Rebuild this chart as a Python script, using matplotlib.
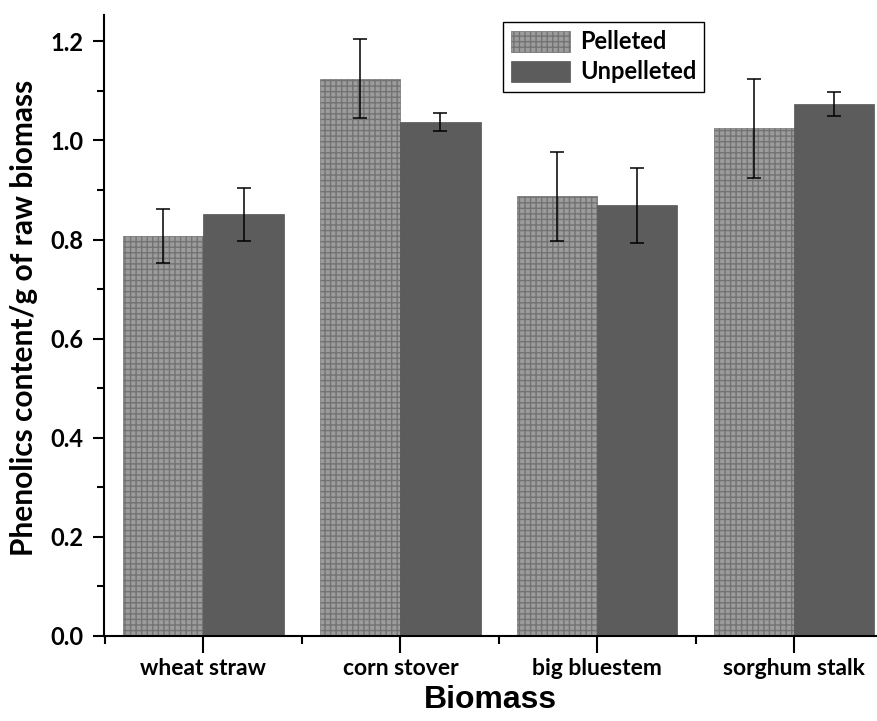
import numpy as np
import matplotlib
matplotlib.use("Agg")
import matplotlib.pyplot as plt
from matplotlib.ticker import MultipleLocator, FixedLocator

# Datos
categorias = ["wheat straw", "corn stover", "big bluestem", "sorghum stalk"]
pelleted = [0.807, 1.125, 0.887, 1.025]
pelleted_err = [0.055, 0.079, 0.090, 0.100]
unpelleted = [0.851, 1.037, 0.869, 1.073]
unpelleted_err = [0.053, 0.018, 0.075, 0.024]

plt.rcParams['hatch.linewidth'] = 1.0
fuente = "Lato"

fig = plt.figure(figsize=(8.77, 7.21), dpi=100)
ax = fig.add_axes([0.119, 0.118, 0.881, 0.861])

x = np.arange(len(categorias))
ancho = 0.407

ax.bar(x - ancho / 2, pelleted, ancho, color='#9c9c9c', edgecolor='#737373',
       hatch='+++', linewidth=0.5, label='Pelleted', zorder=2)
ax.bar(x + ancho / 2, unpelleted, ancho, color='#5c5c5c', edgecolor='#555555',
       linewidth=0.5, label='Unpelleted', zorder=2)

ax.errorbar(x - ancho / 2, pelleted, yerr=pelleted_err, fmt='none', ecolor='black',
            elinewidth=1.1, capsize=4.7, capthick=1.1, zorder=3)
ax.errorbar(x + ancho / 2, unpelleted, yerr=unpelleted_err, fmt='none', ecolor='black',
            elinewidth=1.1, capsize=4.7, capthick=1.1, zorder=3)

# Ejes
ax.set_xlim(-0.503, 3.42)
ax.set_ylim(0, 1.253)
ax.spines['top'].set_visible(False)
ax.spines['right'].set_visible(False)
ax.spines['left'].set_linewidth(1.5)
ax.spines['bottom'].set_linewidth(1.5)

ax.yaxis.set_minor_locator(MultipleLocator(0.1))
ax.set_yticks([0, 0.2, 0.4, 0.6, 0.8, 1.0, 1.2])
ax.set_yticklabels(["0.0", "0.2", "0.4", "0.6", "0.8", "1.0", "1.2"],
                   fontsize=17, fontweight='bold', family=fuente)
ax.set_xticks(x)
ax.set_xticklabels(categorias, fontsize=16.5, fontweight='bold', family=fuente)
ax.xaxis.set_minor_locator(FixedLocator([-0.5, 0.5, 1.5, 2.5]))

ax.tick_params(axis='y', which='major', direction='out', length=8, width=1.5, pad=7)
ax.tick_params(axis='y', which='minor', direction='out', length=5, width=1.5)
ax.tick_params(axis='x', which='major', direction='out', length=12, width=1.5, pad=4)
ax.tick_params(axis='x', which='minor', direction='out', length=6, width=1.5)

ax.set_ylabel("Phenolics content/g of raw biomass", fontsize=21.5, fontweight='bold',
              family=fuente)
ax.yaxis.set_label_coords(-0.086, 0.512)
ax.set_xlabel("Biomass", fontsize=23, fontweight='bold', family="Liberation Sans",
              labelpad=4)

leg = ax.legend(loc='upper left', bbox_to_anchor=(0.516, 0.989),
                prop={'family': fuente, 'weight': 'bold', 'size': 17},
                frameon=True, fancybox=False, edgecolor='black', framealpha=1,
                handlelength=2.5, handleheight=1.0, borderpad=0.35,
                labelspacing=0.3, handletextpad=0.4, borderaxespad=0)
leg.get_frame().set_linewidth(1.0)

plt.savefig("out.png", dpi=100)
plt.close()
